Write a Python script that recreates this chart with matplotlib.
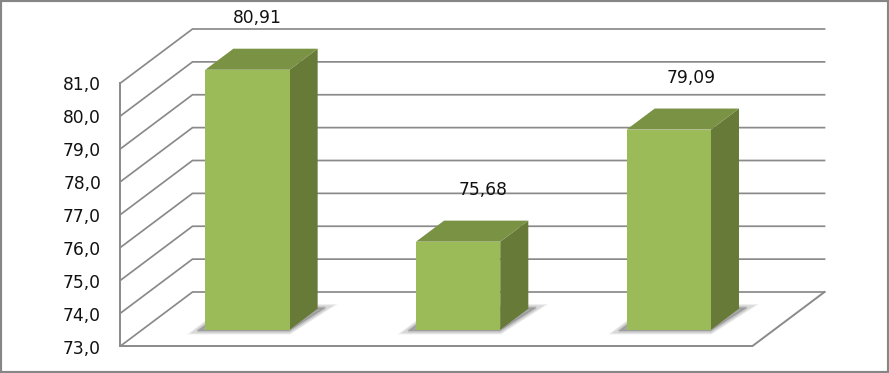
import matplotlib
matplotlib.use("Agg")
import matplotlib.pyplot as plt
from matplotlib.patches import Rectangle
from matplotlib.transforms import ScaledTranslation

# datos
valores = [80.91, 75.68, 79.09]
etiquetas = ["80,91", "75,68", "79,09"]
marcas_y = [73, 74, 75, 76, 77, 78, 79, 80, 81]
marcas_txt = ["73,0", "74,0", "75,0", "76,0", "77,0", "78,0", "79,0", "80,0", "81,0"]

W, H = 889, 373
GRIS = "#8a8a8a"

fig = plt.figure(figsize=(W / 100, H / 100), dpi=100)
ax = fig.add_axes([120.5 / W, (H - 346) / H, 632 / W, 263 / H])
ax.set_xlim(0, 3)
ax.set_ylim(73, 81)

# perspectiva oblicua: d=0 pared frontal, d=1 pared del fondo
UNIDAD_X = 632 / 3
UNIDAD_Y = 263 / 8
def proy(x, v, d):
    return x + d * 72 / UNIDAD_X, v + d * 54 / UNIDAD_Y

def poli(puntos, **kw):
    xs, ys = zip(*[proy(*p) for p in puntos])
    ax.fill(xs, ys, clip_on=False, **kw)

# rejilla
for v in marcas_y:
    x0, y0 = proy(0, v, 0)
    x1, y1 = proy(0, v, 1)
    x2, y2 = proy(3, v, 1)
    ax.plot([x0, x1, x2], [y0, y1, y2], color=GRIS, lw=1.25, clip_on=False, zorder=1,
            solid_joinstyle="miter")
# suelo
xa, ya = proy(0, 73, 0)
xb, yb = proy(3, 73, 0)
xc, yc = proy(3, 73, 1)
ax.plot([xa, xa], [73, 81], color=GRIS, lw=1.4, clip_on=False, zorder=1)
ax.plot([xa, xb, xc], [ya, yb, yc], color=GRIS, lw=1.4, clip_on=False, zorder=1)

# barras
ANCHO = 0.4
D0, D1 = 0.30, 0.69
for i, v in enumerate(valores):
    c = i + 0.5
    izq, der = c - ANCHO / 2, c + ANCHO / 2
    # sombra difusa en el suelo
    for extra in [5, 3.5, 2.2, 1]:
        poli([(izq - 0.03, 73, 0.28), (der + 0.005, 73, 0.28),
              (der + 0.03, 73, 0.71), (izq - 0.03, 73, 0.71)],
             facecolor="#707070", edgecolor="#707070", alpha=0.14, lw=extra, zorder=2)
    poli([(der, 73, D0), (der, 73, D1), (der, v, D1), (der, v, D0)],
         color="#677a37", lw=0, zorder=3)
    poli([(izq, v, D0), (der, v, D0), (der, v, D1), (izq, v, D1)],
         color="#7a9244", lw=0, zorder=3)
    poli([(izq, 73, D0), (der, 73, D0), (der, v, D0), (izq, v, D0)],
         color="#9bbb59", lw=0, zorder=4)

# etiquetas de valor
desp_x = [10, 25, 22]
for i, v in enumerate(valores):
    ax.annotate(etiquetas[i], proy(i + 0.5, v, D0), xytext=(desp_x[i], 52),
                textcoords="offset pixels", ha="center", va="center",
                fontsize=12.3, color="#111111", zorder=5, annotation_clip=False)

ax.set_xticks([])
ax.set_yticks(marcas_y)
ax.set_yticklabels(marcas_txt, fontsize=12.3, color="#111111")
ax.tick_params(axis="y", length=0, pad=14)
bajar = ScaledTranslation(0, -2.5 / 100, fig.dpi_scale_trans)
for lab in ax.get_yticklabels():
    lab.set_verticalalignment("center")
    lab.set_transform(lab.get_transform() + bajar)
for s in ax.spines.values():
    s.set_visible(False)
ax.patch.set_visible(False)

# marco exterior
fig.add_artist(Rectangle((0, 0), 1, 1, transform=fig.transFigure, fill=False,
                         edgecolor="#868686", lw=3))

fig.savefig("out.png", dpi=100, facecolor="white")
